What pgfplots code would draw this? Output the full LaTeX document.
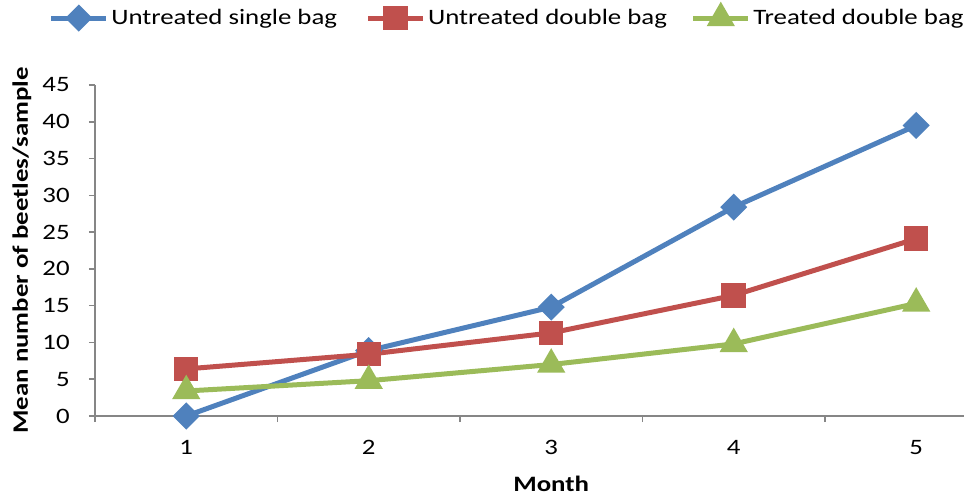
\documentclass[border=0pt]{standalone}
\usepackage{fontspec}
\setmainfont{Carlito}[FakeStretch=1.22]
\usepackage{pgfplots}
\pgfplotsset{compat=1.18}
\definecolor{cblue}{HTML}{4F81BD}
\definecolor{cred}{HTML}{C0504D}
\definecolor{cgreen}{HTML}{9BBB59}
\definecolor{caxis}{HTML}{868686}
\begin{document}
\begin{tikzpicture}
\useasboundingbox (0pt,0pt) rectangle (723pt,372.75pt);
\begin{axis}[
  at={(71.25pt,60.75pt)}, anchor=south west,
  scale only axis,
  width=651.75pt, height=248.25pt,
  xmin=0.5, xmax=5.262,
  ymin=0, ymax=45,
  axis x line=bottom, axis y line=left,
  axis line style={caxis, line width=1.1pt, -},
  every tick/.style={caxis, line width=1.1pt},
  xtick={1,2,3,4,5},
  major x tick style={draw=none},
  minor xtick={0.5,1.5,2.5,3.5,4.5},
  minor tick length=4.5pt,
  xtick pos=bottom, ytick pos=left,
  tick align=outside,
  ytick={0,5,...,45},
  major tick length=4.5pt,
  font=\fontsize{16.5}{19}\selectfont,
  tick label style={font=\fontsize{16.5}{19}\selectfont},
  /pgf/number format/assume math mode=true,
  xticklabel style={yshift=-10pt},
  yticklabel style={xshift=-11pt},
  xlabel={\bfseries Month},
  xlabel style={at={(axis description cs:0.525,-0.2054)}, anchor=center},
  ylabel={\bfseries Mean number of beetles/sample},
  ylabel style={at={(axis description cs:-0.084,0.5)}, anchor=center},
  legend columns=3,
  legend style={at={(axis description cs:-0.053,1.2024)}, anchor=west, draw=none, fill=none,
    inner sep=0pt, outer sep=0pt,
    font=\fontsize{16.5}{19}\selectfont,
    /tikz/every even column/.append style={column sep=0pt}},
  legend image code/.code={\draw[mark repeat=2,mark phase=2,#1] plot coordinates {(0pt,0pt) (20.5pt,0pt) (41pt,0pt)};},
  clip=false,
]
\addplot[color=cblue, line width=3.75pt, mark=square*, mark size=5.3pt, mark options={rotate=45, solid}]
  coordinates {(1,0) (2,8.9) (3,14.8) (4,28.4) (5,39.5)};
\addlegendentry{Untreated single bag\rule{19.5pt}{0pt}}
\addplot[color=cred, line width=3.75pt, mark=square*, mark size=7.3pt, mark options={solid}]
  coordinates {(1,6.4) (2,8.4) (3,11.3) (4,16.4) (5,24.1)};
\addlegendentry{Untreated double bag\rule{16pt}{0pt}}
\addplot[color=cgreen, line width=3.75pt, mark=triangle*, mark size=8.5pt, mark options={solid}]
  coordinates {(1,3.4) (2,4.8) (3,7.0) (4,9.8) (5,15.3)};
\addlegendentry{Treated double bag}
\end{axis}
\end{tikzpicture}
\end{document}
